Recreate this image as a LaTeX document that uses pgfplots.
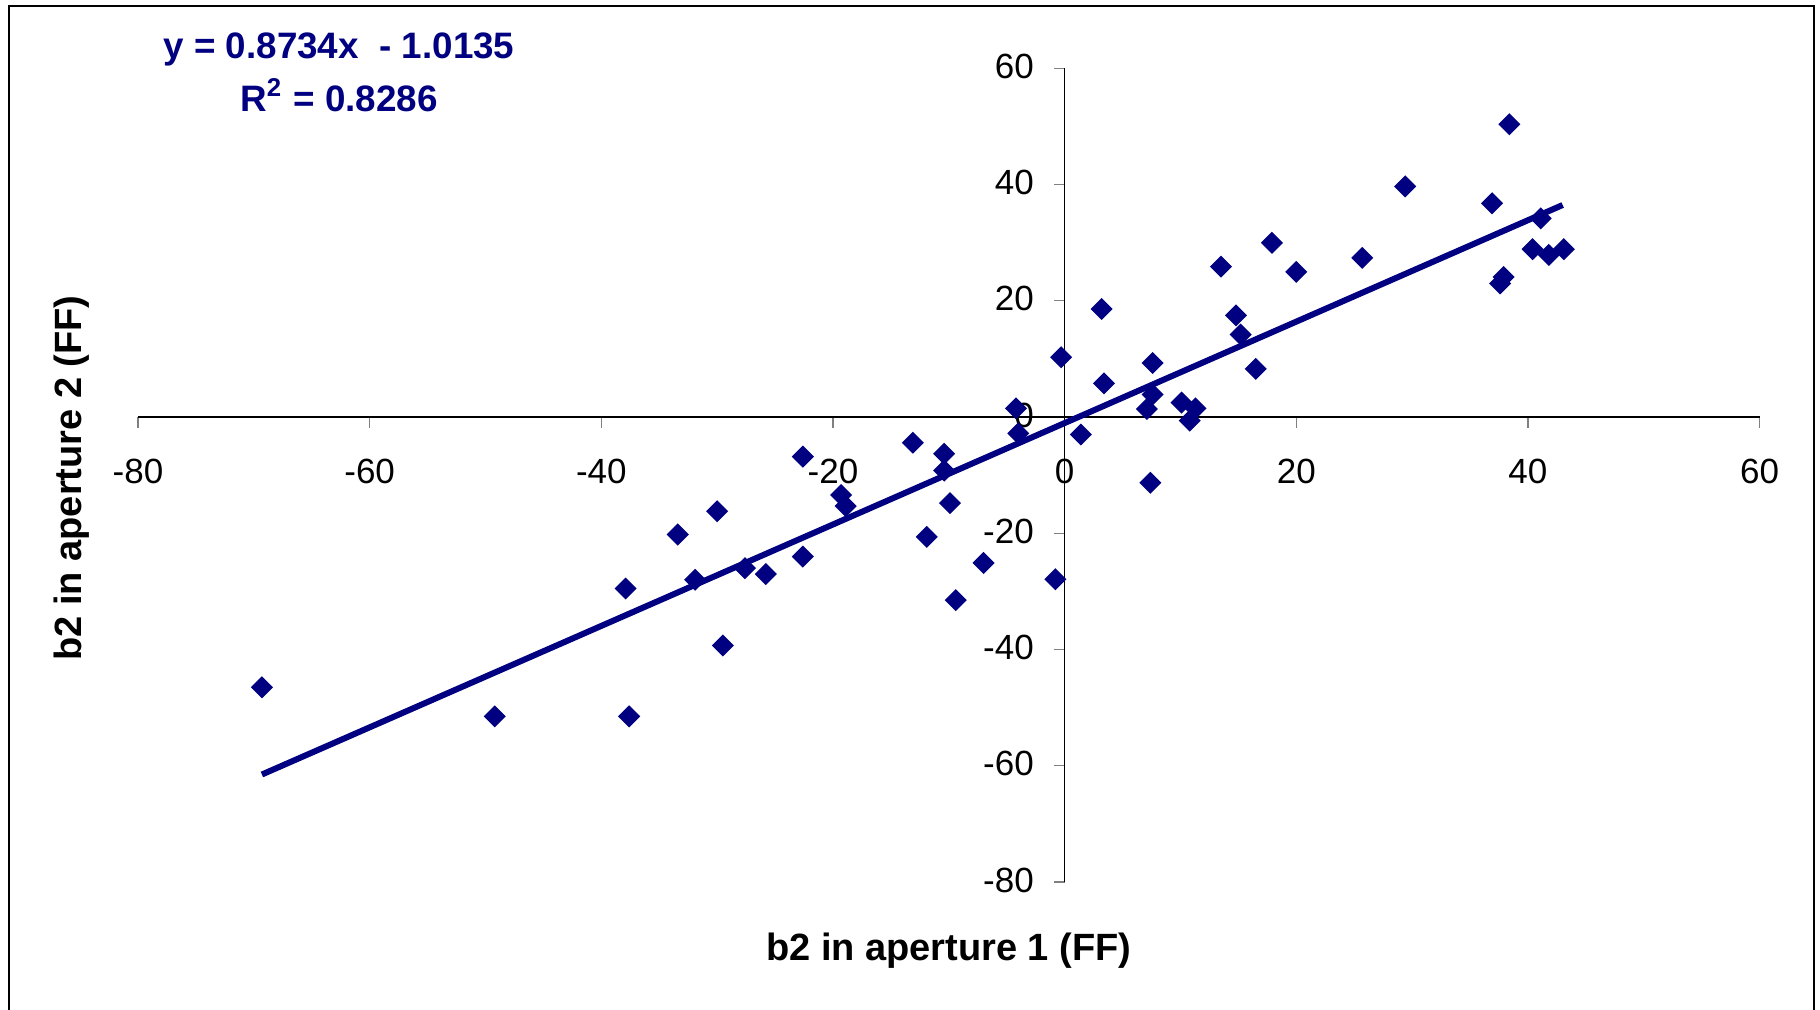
\documentclass[border=0pt]{standalone}
\usepackage{fontspec}
\setmainfont{Liberation Sans}
\usepackage{pgfplots}
\pgfplotsset{compat=1.18}
\definecolor{navy}{RGB}{0,0,128}
\begin{document}
\begin{tikzpicture}
\path[use as bounding box] (0,0) rectangle (455pt,252.25pt);
\draw[line width=0.5pt] (2.25pt,-2pt) -- (2.25pt,250.75pt) -- (453.5pt,250.75pt) -- (453.5pt,-2pt);
\begin{axis}[
  at={(34.5pt,31.75pt)}, anchor=south west,
  width=405.4pt, height=203.4pt, scale only axis,
  xmin=-80, xmax=60, ymin=-80, ymax=60,
  axis lines=middle,
  axis line style={line width=0.4pt, -},
  xtick={-80,-60,...,60}, ytick={-80,-60,...,60},
  hide obscured x ticks=false, hide obscured y ticks=false,
  tick align=center, major tick length=2.75pt,
  xtick style={line width=0.3pt, yshift=-1.375pt},
  ytick style={line width=0.3pt, xshift=-1.375pt},
  /pgf/number format/assume math mode=true,
  ticklabel style={font=\fontsize{8.75}{10}\selectfont},
  xticklabel style={anchor=north, inner sep=0pt, yshift=-8.85pt},
  yticklabel style={anchor=east, inner sep=0pt, xshift=-6.15pt, yshift=0.5pt},
  xlabel={b2 in aperture 1 (FF)},
  ylabel={b2 in aperture 2 (FF)},
  xlabel style={at={(rel axis cs:0.5,0)}, anchor=center, yshift=-17.2pt, font=\bfseries\fontsize{9.5}{11}\selectfont},
  ylabel style={at={(rel axis cs:0,0.5)}, anchor=center, rotate=90, yshift=16.5pt, xshift=-0.7pt, font=\bfseries\fontsize{9.5}{11}\selectfont},
  clip=false,
]
\addplot[only marks, mark=square*, mark size=1.75pt, color=navy, mark options={rotate=45, fill=navy}] coordinates {
(-69.3,-46.5) (-49.2,-51.5) (-37.6,-51.5) (-37.9,-29.5) (-33.4,-20.2)
(-31.9,-28.0) (-30.0,-16.2) (-29.5,-39.3) (-27.6,-26.0) (-25.8,-27.0)
(-22.6,-6.8) (-22.6,-24.0) (-19.3,-13.4) (-18.9,-15.3) (-13.1,-4.4)
(-11.9,-20.6) (-10.4,-6.3) (-10.4,-9.2) (-9.9,-14.8) (-9.4,-31.5)
(-7.0,-25.1) (-4.2,1.5) (-4.0,-2.8) (-0.8,-27.9) (-0.3,10.3)
(1.4,-3.0) (3.2,18.6) (3.4,5.8) (7.1,1.4) (7.4,-11.3)
(7.6,3.9) (7.6,9.3) (10.1,2.5) (10.8,-0.6) (11.3,1.5)
(13.5,25.9) (14.8,17.5) (15.2,14.2) (16.5,8.3) (17.9,30.0)
(20.0,25.0) (25.7,27.4) (29.4,39.7) (36.9,36.8) (37.6,23.0)
(37.9,24.1) (38.4,50.4) (40.4,28.9) (41.1,34.2) (41.8,27.9)
(43.1,28.9)
};
\addplot[color=navy, line width=1.5pt] coordinates {(-69.3,-61.5) (43.0,36.5)};
\end{axis}
\node[anchor=base, text=navy, font=\bfseries\fontsize{9.2}{10}\selectfont, inner sep=0pt] at (84.75pt,237.5pt) {y = 0.8734x\ \ - 1.0135};
\node[anchor=base, text=navy, font=\bfseries\fontsize{9.2}{10}\selectfont, inner sep=0pt] at (84.75pt,224.4pt) {R\textsuperscript{2} = 0.8286};
\end{tikzpicture}
\end{document}
